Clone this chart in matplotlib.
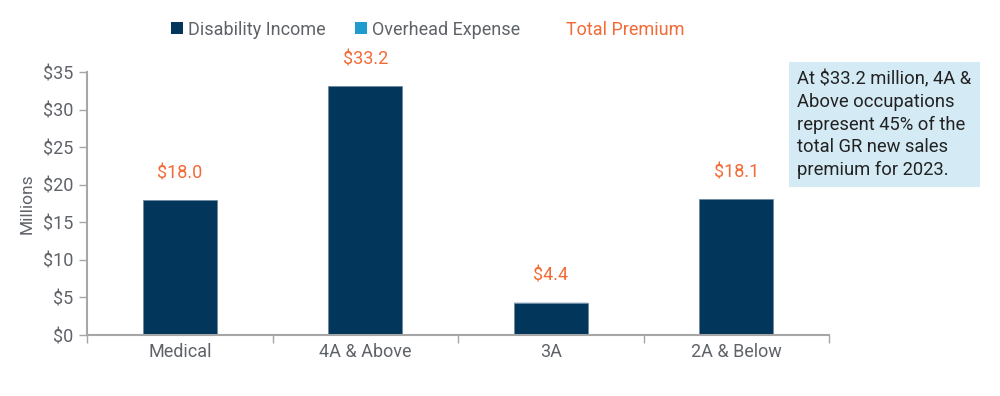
import numpy as np
import matplotlib
matplotlib.use("Agg")
import matplotlib.pyplot as plt
from matplotlib.patches import Patch

# ── Data ──────────────────────────────────────────────────────────────────────
categories = ["Medical", "4A & Above", "3A", "2A & Below"]
disability_income = [17.95, 33.1, 4.3, 18.05]
overhead_expense = [0.05, 0.1, 0.1, 0.05]
total_premium = [18.0, 33.2, 4.4, 18.1]
yticks = [0, 5, 10, 15, 20, 25, 30, 35]

NAVY = "#02365b"
BLUE = "#1f9bd0"
ORANGE = "#f26a35"
GRAY = "#5f6368"
AXIS = "#a6a6a6"

plt.rcParams["font.family"] = ["Roboto", "DejaVu Sans"]

fig = plt.figure(figsize=(10, 3.96), dpi=100)
ax = fig.add_axes([0.087, 0.154, 0.742, 0.664])

x = np.arange(len(categories))
ax.bar(x, disability_income, width=0.40, color=NAVY, edgecolor="#6f8aa0", linewidth=0.6)
ax.bar(x, overhead_expense, width=0.40, bottom=disability_income, color="#c9dbe8", edgecolor="none")

for xi, tp in zip(x, total_premium):
    ax.text(xi, tp + 3.5, f"${tp:.1f}", ha="center", va="center", color=ORANGE, fontsize=13)

ax.set_xlim(-0.5, 3.5)
ax.set_ylim(0, 35)
ax.set_yticks(yticks)
ax.set_yticklabels([f"${v}" for v in yticks])
ax.set_xticks(x)
ax.set_xticklabels(categories)
ax.set_xticks(np.arange(-0.5, 4, 1), minor=True)
ax.tick_params(axis="x", which="major", length=0, labelsize=13, labelcolor=GRAY, pad=6)
ax.tick_params(axis="x", which="minor", length=6, color=AXIS, width=1)
ax.tick_params(axis="y", length=6, color=AXIS, width=1, labelsize=13, labelcolor=GRAY, pad=4)
ax.set_ylabel("Millions", fontsize=12.5, color=GRAY, labelpad=6)

for s in ["top", "right"]:
    ax.spines[s].set_visible(False)
for s in ["left", "bottom"]:
    ax.spines[s].set_color(AXIS)
    ax.spines[s].set_linewidth(1.5)

handles = [
    Patch(facecolor=NAVY, label="Disability Income"),
    Patch(facecolor=BLUE, label="Overhead Expense"),
    Patch(facecolor="none", edgecolor="none", label="Total Premium"),
]
leg = fig.legend(handles=handles, loc="center", bbox_to_anchor=(0.428, 0.925), ncol=3,
                 frameon=False, fontsize=13, handlelength=0.65, handleheight=0.65,
                 handletextpad=0.3, columnspacing=1.6)
for t, c in zip(leg.get_texts(), [GRAY, GRAY, ORANGE]):
    t.set_color(c)

fig.text(0.797, 0.822,
         "At $33.2 million, 4A &\nAbove occupations\nrepresent 45% of the\ntotal GR new sales\npremium for 2023.",
         ha="left", va="top", fontsize=13.2, color="#222222", linespacing=1.32,
         bbox=dict(boxstyle="square,pad=0.45", facecolor="#d4ebf5", edgecolor="none"))

fig.savefig("out.png", dpi=100)
